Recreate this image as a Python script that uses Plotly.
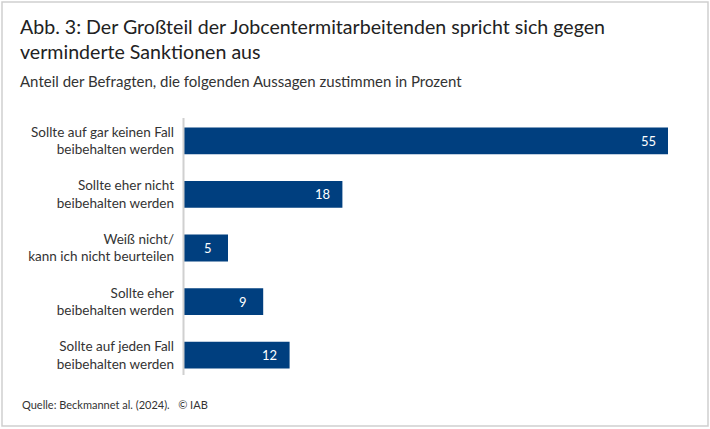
import plotly.graph_objects as go

categories = [
    "Sollte auf gar keinen Fall<br>beibehalten werden",
    "Sollte eher nicht<br>beibehalten werden",
    "Weiß nicht/<br>kann ich nicht beurteilen",
    "Sollte eher<br>beibehalten werden",
    "Sollte auf jeden Fall<br>beibehalten werden",
]
values = [55, 18, 5, 9, 12]

title_text = "Abb. 3: Der Großteil der Jobcentermitarbeitenden spricht sich gegen<br>verminderte Sanktionen aus"
subtitle_text = "Anteil der Befragten, die folgenden Aussagen zustimmen in Prozent"
source_text = "Quelle: Beckmannet al. (2024).   © IAB"

W, H = 710, 429
ML, MR, MT, MB = 184, 42, 114, 47
PW, PH = W - ML - MR, H - MT - MB
FONT = "Lato"
TXT = "#333333"
BAR = "#003F7F"


def px(x):
    return (x - ML) / PW


def py(y):
    return (H - MB - y) / PH


fig = go.Figure()
fig.add_trace(go.Bar(
    x=values, y=categories, orientation="h",
    marker=dict(color=BAR, line=dict(width=0)),
    width=0.5, hoverinfo="skip",
))

for c, v in zip(categories, values):
    fig.add_annotation(x=v, y=c, xref="x", yref="y", text=str(v),
                       showarrow=False, xanchor="center", xshift=-20,
                       font=dict(family=FONT, size=13, color="white"))

fig.add_annotation(x=px(18), y=py(13), xref="paper", yref="paper",
                   text=title_text, showarrow=False, xanchor="left", yanchor="top",
                   align="left", font=dict(family=FONT, size=19.6, color="#222222"))
fig.add_annotation(x=px(18), y=py(70), xref="paper", yref="paper",
                   text=subtitle_text, showarrow=False, xanchor="left", yanchor="top",
                   align="left", font=dict(family=FONT, size=15, color=TXT))
fig.add_annotation(x=px(20), y=py(404), xref="paper", yref="paper",
                   text=source_text, showarrow=False, xanchor="left", yanchor="middle",
                   align="left", font=dict(family=FONT, size=11, color=TXT))

# outer frame
fig.add_shape(type="rect", xref="paper", yref="paper",
              x0=px(2), x1=px(708), y0=py(2), y1=py(426),
              line=dict(color="#CFCFCF", width=1.5), fillcolor="rgba(0,0,0,0)", layer="below")
# axis line
fig.add_shape(type="line", xref="paper", yref="paper",
              x0=px(183.5), x1=px(183.5), y0=py(118), y1=py(375),
              line=dict(color="#D0D0D0", width=2))

fig.update_layout(
    width=W, height=H, margin=dict(l=ML, r=MR, t=MT, b=MB),
    paper_bgcolor="white", plot_bgcolor="white", showlegend=False,
    bargap=0.5,
    xaxis=dict(range=[0, 55], visible=False, fixedrange=True),
    yaxis=dict(categoryorder="array", categoryarray=categories, autorange="reversed",
               showline=False, showgrid=False, zeroline=False, ticks="",
               ticklabelstandoff=9, fixedrange=True,
               tickfont=dict(family=FONT, size=13.5, color=TXT)),
)

fig.write_html("out.html", config={"displayModeBar": False},
               post_script="document.body.style.margin='0';")
